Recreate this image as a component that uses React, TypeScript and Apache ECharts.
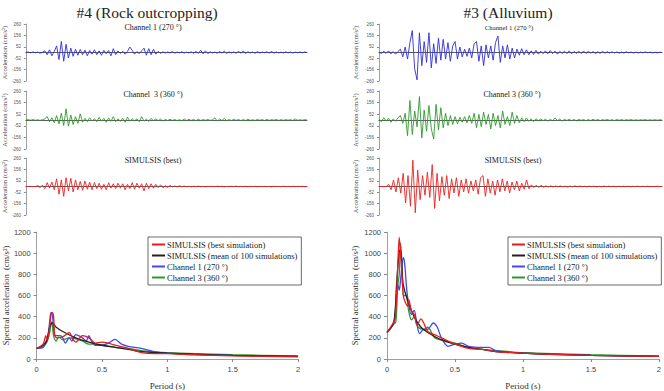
import React, { useEffect, useRef } from "react";
import * as echarts from "echarts";

// Acceleration time histories (cm/s²), one value per sample
const rockCh1 = [
  0, 4, -3, 5, -2, 3, -6, 2,
  15, -20, 25, -30, 10,
  60, -65, 100, -80, 75, -50, 40,
  -35, 30, -25, 28, -20, 22, -30, 18, -15, 25,
  -20, 15, -25, 20, -12, 18, -30, 35, -20, 15,
  -10, 12, -15, 10, 50, 20, -15, 8, -10, 15,
  40, -25, 35, -20, 30, -15, 10, -8, 6, -5,
  5, -4, 8, -6, 4, -3, 6, -5, 3, -4,
  5, -6, 10, -8, 20, -12, 15, -10, 6, -5,
  4, -6, 8, -5, 12, -8, 6, -4, 5, -6,
  10, -6, 12, -8, 6, -4, 5, -7, 8, -5,
  4, -3, 6, -5, 9, -6, 5, -4, 3, -5,
  6, -3, 4, -5, 3, -2, 4, -3, 5, 0,
];
const rockCh3 = [
  0, 3, -2, 4, -3, 2, -4, 3,
  10, 30, -15, 20, -25,
  40, -35, 60, -50, 100, -55, 45,
  -40, 30, -30, 55, -20, 15, -15, 20, -10, 12,
  -15, 25, -10, 15, -20, 18, -12, 30, -15, 10,
  -12, 15, -20, 25, -10, 12, -8, 10, -15, 30,
  -10, 8, -12, 15, -8, 10, -6, 8, -10, 6,
  -5, 6, -4, 5, -6, 4, -8, 10, -5, 6,
  -4, 5, -6, 8, -5, 4, -3, 5, -4, 3,
  20, -10, 8, -5, 15, -6, 4, -5, 6, -4,
  5, -6, 4, -5, 8, -4, 3, -5, 6, -3,
  4, -5, 6, -4, 3, -2, 5, -4, 3, -3,
  4, -2, 3, -4, 10, -3, 2, -2, 3, 0,
];
const rockSim = [
  0, 0, 1, -1, 0, 8, -10, 12,
  -20, 35, -15, 40, -30,
  70, -70, 60, -90, 80, -40, 75,
  -50, 60, -30, 45, -35, 50, -25, 40, -30, 35,
  -20, 30, -25, 20, -30, 35, -15, 25, -20, 30,
  -15, 25, -30, 20, -20, 35, -25, 30, -15, 25,
  -40, 30, -20, 25, -15, 20, -10, 15, -12, 8,
  -8, 10, -6, 5, -4, 6, -3, 4, -3, 2,
  -3, 2, -2, 3, -2, 1, -3, 2, -1, 2,
  -2, 3, -1, 2, -3, 1, -2, 2, -1, 3,
  -2, 1, -2, 2, -3, 1, -1, 2, -2, 1,
  -1, 2, -2, 1, -3, 2, -1, 1, -2, 2,
  -1, 1, -2, 2, -1, 1, -1, 2, -1, 0,
];
const alluCh1 = [
  5, -10, 12, -8, 15, -12, 8, -15, 10,
  30, -40, 50, -60, 90,
  200, -150, -250, 180, -120, 100,
  -90, 180, -140, 80, -100, 130,
  -70, 120, -60, 90, -80, 60,
  100, -60, 50, -40, 30, -35,
  40, -50, 80, 100, -80, 60,
  -120, 70, -50, 60, -70, 90,
  150, -90, 60, -50, 70, -60,
  40, -50, 30, -25, 35, -20,
  25, -20, 15, -18, 20, -15, 12, -10,
  15, -12, 18, -10, 12, -15, 10, -8, 12, -10,
  15, -12, 10, -8, 12, -10, 14, -8, 10, -6,
  8, -10, 6, -8, 10, -6, 8, -5, 6, -4,
  5, -6, 4, -5, 6, -3, 4, -5, 3, -4,
  4, -3, 5, -2, 3, -4, 2, -3, 2, 0,
];
const alluCh3 = [
  10, -15, 20, -10, 15, -20, 10, -12, 20,
  40, -30, 60, -140,
  175, -130, 80, -60, 210, -160,
  90, -100, 130, -80, -170, 140,
  -90, 110, -70, 60, -50, 40,
  -40, 30, -35, 25, -20, 30,
  -25, 40, -30, 60, -70, 50,
  -60, 70, -40, 50, -80, 60,
  -50, 40, -70, 80, -40, 30,
  -50, 70, -30, 40, -25, 20,
  -15, 18, -12, 10, -15, 12, -8, 10, -6,
  8, -10, 6, -8, 20, -6, 8, -10, 6, -5,
  7, -6, 5, -8, 6, -4, 5, -6, 4, -5,
  6, -4, 5, -6, 4, -3, 5, -4, 3, -5,
  4, -3, 5, -4, 3, -2, 4, -3, 2, -3,
  3, -2, 4, -3, 2, -2, 3, -2, 2, 0,
];
const alluSim = [
  0, 0, 0, 0,
  20, -30, 60, -50, 80,
  -60, 120, -150, 100, -180,
  240, -240, 150, -120, 100, -80,
  130, -100, 200, -200, 120, -130,
  90, -80, 100, -110, 70, -60,
  80, -90, 60, -50, 70, -60,
  50, -40, 60, -70, 80, 100,
  -90, 70, -60, 50, -80, 60,
  -50, 70, -40, 50, -60, 40,
  -30, 50, -40, 30, -25, 60,
  -20, 15, -10, 12, -8, 10,
  -6, 5, -4, 6, -5, 4, -3, 5, -4, 3,
  -5, 4, -3, 5, -2, 4, -3, 2, -4, 3,
  -2, 3, -4, 2, -3, 4, -2, 3, -2, 2,
  -3, 2, -2, 3, -2, 2, -3, 2, -2, 3,
  -2, 2, -1, 2, -2, 1, -2, 2, -1, 0,
];

// Response spectra: [period (s), spectral acceleration (cm/s²)]
const rockSpecBest = [
  [0, 100], [0.05, 140], [0.07, 220], [0.08, 180], [0.1, 300], [0.11, 420], [0.12, 440],
  [0.13, 400], [0.14, 220], [0.16, 200], [0.2, 210], [0.25, 250], [0.28, 180], [0.3, 160],
  [0.35, 220], [0.4, 200], [0.45, 150], [0.5, 160], [0.55, 150], [0.6, 130], [0.7, 100],
  [0.8, 60], [0.9, 50], [1.0, 50], [1.2, 40], [1.5, 30], [2.0, 20],
];
const rockSpecMean = [
  [0, 100], [0.05, 130], [0.08, 180], [0.1, 300], [0.12, 340], [0.15, 300], [0.2, 260],
  [0.3, 200], [0.4, 160], [0.5, 130], [0.6, 110], [0.7, 90], [0.8, 70], [1.0, 55],
  [1.2, 45], [1.5, 35], [2.0, 25],
];
const rockSpecCh1 = [
  [0, 100], [0.05, 110], [0.07, 150], [0.09, 250], [0.1, 350], [0.11, 440], [0.12, 420],
  [0.13, 300], [0.14, 220], [0.16, 220], [0.18, 220], [0.2, 200], [0.22, 150], [0.25, 200],
  [0.27, 170], [0.3, 230], [0.35, 200], [0.38, 170], [0.4, 220], [0.42, 170], [0.45, 130],
  [0.5, 130], [0.55, 150], [0.6, 185], [0.65, 140], [0.7, 120], [0.8, 100], [0.9, 70],
  [1.0, 55], [1.2, 45], [1.5, 35], [2.0, 25],
];
const rockSpecCh3 = [
  [0, 100], [0.05, 120], [0.08, 160], [0.1, 250], [0.115, 350], [0.12, 330], [0.13, 220],
  [0.15, 170], [0.17, 210], [0.2, 180], [0.25, 200], [0.3, 190], [0.35, 170], [0.4, 140],
  [0.45, 140], [0.5, 130], [0.6, 110], [0.7, 100], [0.8, 80], [1.0, 60], [1.5, 40], [2.0, 30],
];
const alluSpecBest = [
  [0, 250], [0.05, 350], [0.06, 380], [0.07, 600], [0.08, 900], [0.09, 1150], [0.1, 1000],
  [0.11, 800], [0.12, 600], [0.13, 550], [0.15, 500], [0.16, 560], [0.18, 450], [0.2, 420],
  [0.22, 320], [0.25, 380], [0.27, 340], [0.3, 260], [0.35, 230], [0.4, 200], [0.45, 170],
  [0.5, 140], [0.6, 100], [0.7, 90], [0.8, 70], [1.0, 55], [1.2, 45], [1.5, 35], [2.0, 25],
];
const alluSpecMean = [
  [0, 250], [0.05, 350], [0.07, 700], [0.09, 1020], [0.1, 1030], [0.11, 850], [0.12, 700],
  [0.15, 560], [0.2, 400], [0.25, 300], [0.3, 250], [0.4, 180], [0.5, 140], [0.6, 110],
  [0.7, 90], [0.8, 70], [1.0, 55], [1.2, 45], [1.5, 35], [2.0, 25],
];
const alluSpecCh1 = [
  [0, 250], [0.05, 340], [0.07, 600], [0.08, 700], [0.09, 650], [0.1, 750], [0.12, 960],
  [0.13, 900], [0.15, 600], [0.18, 420], [0.2, 460], [0.22, 330], [0.24, 240], [0.27, 280],
  [0.3, 280], [0.34, 340], [0.37, 300], [0.4, 200], [0.45, 120], [0.5, 140], [0.55, 150],
  [0.6, 120], [0.7, 110], [0.75, 110], [0.8, 80], [1.0, 55], [1.5, 35], [2.0, 25],
];
const alluSpecCh3 = [
  [0, 250], [0.05, 330], [0.065, 350], [0.08, 700], [0.09, 800], [0.1, 1100], [0.11, 900],
  [0.12, 600], [0.14, 600], [0.16, 450], [0.18, 370], [0.2, 400], [0.23, 300], [0.27, 280],
  [0.3, 300], [0.35, 200], [0.4, 180], [0.5, 150], [0.6, 110], [0.7, 90], [0.8, 80],
  [1.0, 60], [1.5, 40], [2.0, 30],
];

const accTicks = [-260, -156, -52, 52, 156, 260];
const legendNames = [
  "SIMULSIS (best simulation)",
  "SIMULSIS (mean of 100 simulations)",
  "Channel 1 (270 °)",
  "Channel 3 (360 °)",
];

const BLUE = "#2f2fd8";
const GREEN = "#2e9a2e";
const RED = "#ef2020";
const SERIF = "'Liberation Serif', 'DejaVu Serif', serif";
const SANS = "'Liberation Sans', Arial, sans-serif";

export default function App() {
  const ref = useRef<HTMLDivElement>(null);

  useEffect(() => {
    if (!ref.current) return;
    const chart = echarts.init(ref.current, null, { renderer: "svg" });

    const grid: any[] = [];
    const xAxis: any[] = [];
    const yAxis: any[] = [];
    const series: any[] = [];
    const plain = (v: number) => String(v);

    const tsRows = [
      { top: 24, height: 57 },
      { top: 91, height: 58 },
      { top: 158, height: 57 },
    ];
    const tsCols = [
      { left: 20, width: 287, nameGap: 16, data: [rockCh1, rockCh3, rockSim] },
      { left: 379, width: 283, nameGap: 20, data: [alluCh1, alluCh3, alluSim] },
    ];
    const tsColors = [BLUE, GREEN, RED];

    tsCols.forEach((col) => {
      tsRows.forEach((row, r) => {
        const idx = grid.length;
        const values = col.data[r];
        grid.push({ left: col.left, top: row.top, width: col.width, height: row.height });
        xAxis.push({
          gridIndex: idx,
          type: "category",
          boundaryGap: false,
          data: values.map((_, i) => i),
          axisLine: { onZero: true, lineStyle: { color: "#333", width: 0.8 } },
          axisTick: { show: false },
          axisLabel: { show: false },
          splitLine: { show: false },
        });
        yAxis.push({
          gridIndex: idx,
          type: "value",
          min: -260,
          max: 260,
          name: "Acceleration (cm/s²)",
          nameLocation: "middle",
          nameRotate: 90,
          nameGap: col.nameGap,
          nameTextStyle: { fontFamily: SERIF, fontSize: 6.5, color: "#444" },
          axisLine: { show: true, lineStyle: { color: "#888", width: 0.8 } },
          axisTick: { show: true, length: 2, customValues: accTicks, lineStyle: { color: "#888" } },
          axisLabel: {
            customValues: accTicks,
            formatter: plain,
            fontSize: 4.5,
            color: "#555",
            margin: 5,
            fontFamily: SANS,
          },
          splitLine: { show: false },
        });
        series.push({
          type: "line",
          name: "ts" + idx,
          xAxisIndex: idx,
          yAxisIndex: idx,
          data: values,
          showSymbol: false,
          symbol: "none",
          lineStyle: { color: tsColors[r], width: 0.9 },
          z: 1,
        });
      });
    });

    const specCols = [
      { left: 26, legendLeft: 148, nameGap: 24, sets: [rockSpecCh3, rockSpecCh1, rockSpecMean, rockSpecBest] },
      { left: 387, legendLeft: 508, nameGap: 28, sets: [alluSpecCh3, alluSpecCh1, alluSpecMean, alluSpecBest] },
    ];
    const specStyle = [
      { name: legendNames[3], color: GREEN },
      { name: legendNames[2], color: "#4646ee" },
      { name: legendNames[1], color: "#222222" },
      { name: legendNames[0], color: "#e81c1c" },
    ];
    const legend: any[] = [];

    specCols.forEach((col) => {
      const idx = grid.length;
      grid.push({ left: col.left, top: 232, width: 272, height: 129 });
      xAxis.push({
        gridIndex: idx,
        type: "value",
        min: 0,
        max: 2,
        interval: 0.5,
        name: "Period (s)",
        nameLocation: "middle",
        nameGap: 22,
        nameTextStyle: { fontFamily: SERIF, fontSize: 9, color: "#333" },
        axisLine: { lineStyle: { color: "#888", width: 0.8 } },
        axisTick: { show: true, length: 3, lineStyle: { color: "#888" } },
        axisLabel: { formatter: plain, fontSize: 7.5, color: "#444", fontFamily: SANS, margin: 6 },
        splitLine: { show: false },
      });
      yAxis.push({
        gridIndex: idx,
        type: "value",
        min: 0,
        max: 1200,
        interval: 200,
        name: "Spectral acceleration  (cm/s²)",
        nameLocation: "middle",
        nameRotate: 90,
        nameGap: col.nameGap,
        nameTextStyle: { fontFamily: SERIF, fontSize: 8.5, color: "#333" },
        axisLine: { show: true, lineStyle: { color: "#888", width: 0.8 } },
        axisTick: { show: true, length: 3, lineStyle: { color: "#888" } },
        axisLabel: { formatter: plain, fontSize: 7.5, color: "#444", fontFamily: SANS, margin: 6 },
        splitLine: { show: false },
      });
      col.sets.forEach((set, k) => {
        series.push({
          type: "line",
          name: specStyle[k].name,
          xAxisIndex: idx,
          yAxisIndex: idx,
          data: set,
          smooth: 0.3,
          showSymbol: false,
          symbol: "none",
          lineStyle: { color: specStyle[k].color, width: 1.3 },
          itemStyle: { color: specStyle[k].color },
        });
      });
      legend.push({
        left: col.legendLeft,
        top: 237,
        orient: "vertical",
        data: legendNames,
        icon: "rect",
        itemWidth: 13,
        itemHeight: 2,
        itemGap: 2,
        padding: [3, 4, 3, 4],
        borderColor: "#444",
        borderWidth: 0.8,
        borderRadius: 0,
        backgroundColor: "#fff",
        selectedMode: false,
        textStyle: { fontFamily: SERIF, fontSize: 8.5, color: "#222", padding: [0, 0, 0, -3] },
      });
    });

    const label = (text: string, x: number, y: number, size: number) => ({
      type: "text",
      x,
      y,
      style: {
        text,
        fontFamily: SERIF,
        fontSize: size,
        fill: "#222",
        textAlign: "center",
        textVerticalAlign: "middle",
      },
    });

    chart.setOption({
      animation: false,
      backgroundColor: "#fff",
      grid,
      xAxis,
      yAxis,
      series,
      legend,
      graphic: [
        label("#4 (Rock outcropping)", 147, 12, 15.5),
        label("#3 (Alluvium)", 508, 12, 15.5),
        label("Channel 1 (270 °)", 153, 27, 8),
        label("Channel  3 (360 °)", 153, 94, 8),
        label("SIMULSIS (best)", 153, 160, 8),
        label("Channel 1 (270 °)", 509, 27, 6.8),
        label("Channel 3 (360 °)", 512, 94, 8),
        label("SIMULSIS (best)", 513, 160, 8),
      ],
    });

    return () => chart.dispose();
  }, []);

  return (
    <div
      ref={ref}
      style={{ position: "absolute", left: 0, top: 0, width: 664, height: 391 }}
    />
  );
}
